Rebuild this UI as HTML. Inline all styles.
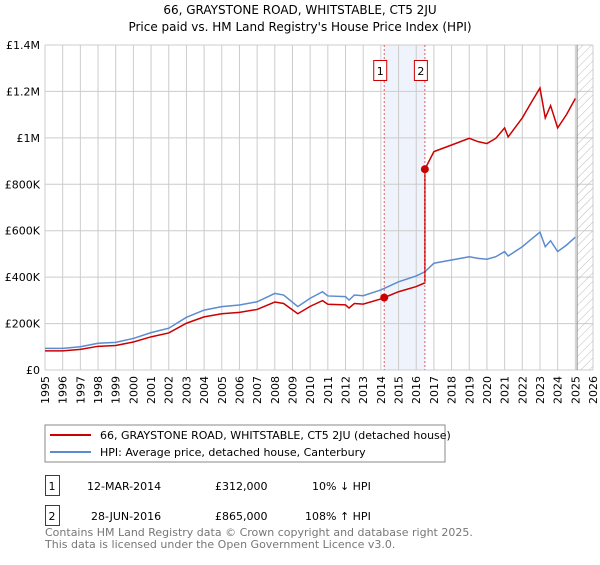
<!DOCTYPE html>
<html><head><meta charset="utf-8"><style>
body{margin:0;background:#fff;width:600px;height:560px;overflow:hidden;font-family:"Liberation Sans","DejaVu Sans",sans-serif;}
svg text{font-family:"DejaVu Sans","Liberation Sans",sans-serif;}
</style></head><body>
<svg id="c" width="600" height="560" xmlns="http://www.w3.org/2000/svg">
<defs><pattern id="hatch" width="6" height="6" patternUnits="userSpaceOnUse" patternTransform="rotate(45)"><line x1="0" y1="0" x2="0" y2="6" stroke="#bbb" stroke-width="1"/></pattern></defs>
<text x="300" y="14" text-anchor="middle" font-size="12" fill="#000">66, GRAYSTONE ROAD, WHITSTABLE, CT5 2JU</text>
<text x="300" y="31" text-anchor="middle" font-size="12" fill="#000">Price paid vs. HM Land Registry's House Price Index (HPI)</text>
<g id="grid"></g><g id="marks"></g><g id="axes"></g>
<rect x="45" y="425" width="400" height="37" fill="#fff" stroke="#888"/>
<line x1="50" y1="435" x2="91" y2="435" stroke="#cc0000" stroke-width="2"/>
<text x="100" y="439" font-size="11">66, GRAYSTONE ROAD, WHITSTABLE, CT5 2JU (detached house)</text>
<line x1="50" y1="452" x2="91" y2="452" stroke="#5b8bd0" stroke-width="2"/>
<text x="100" y="456" font-size="11">HPI: Average price, detached house, Canterbury</text>
<g>
<rect x="45.5" y="475.5" width="14" height="20" fill="#fff" stroke="#cc0000"/><text x="52" y="490" text-anchor="middle" font-size="11">1</text>
<text x="87" y="490" font-size="11">12-MAR-2014</text><text x="215" y="490" font-size="11">£312,000</text><text x="312" y="490" font-size="11">10% ↓ HPI</text></g>
<g>
<rect x="45.5" y="505.5" width="14" height="20" fill="#fff" stroke="#cc0000"/><text x="52" y="520" text-anchor="middle" font-size="11">2</text>
<text x="91" y="520" font-size="11">28-JUN-2016</text><text x="215" y="520" font-size="11">£865,000</text><text x="305" y="520" font-size="11">108% ↑ HPI</text></g>
<text x="45" y="536" font-size="11" fill="#777">Contains HM Land Registry data © Crown copyright and database right 2025.</text>
<text x="45" y="548" font-size="11" fill="#777">This data is licensed under the Open Government Licence v3.0.</text>
</svg>
<script>
const hpiYears=[1995,1996,1997,1998,1999,2000,2001,2002,2003,2004,2005,2006,2007,2008,2008.5,2009.3,2010,2010.7,2011,2012,2012.2,2012.5,2013,2014,2014.2,2015,2016,2016.49,2017,2018,2019,2019.5,2020,2020.5,2021,2021.2,2022,2022.5,2023,2023.3,2023.6,2024,2024.5,2025];
const hpiValues=[93,93,100,115,119,136,161,180,227,258,273,280,294,330,323,273,309,337,319,316,301,323,320,345,352,380,405,423,460,474,488,481,477,488,510,491,531,563,594,531,557,510,538,572];
const saleDates=[2014.19,2016.49];
const salePrices=[312,865];
const saleLabels=["1","2"];
const yTicks=[0,200,400,600,800,1000,1200,1400];
const yTickLabels=["£0","£200K","£400K","£600K","£800K","£1M","£1.2M","£1.4M"];
const xTicks=[1995,1996,1997,1998,1999,2000,2001,2002,2003,2004,2005,2006,2007,2008,2009,2010,2011,2012,2013,2014,2015,2016,2017,2018,2019,2020,2021,2022,2023,2024,2025,2026];
const NS="http://www.w3.org/2000/svg";
const L=45,R=593,T=45,B=370;
const xs=y=>L+(y-1995)/(2026-1995)*(R-L);
const ys=v=>B-v/1400*(B-T);
function mk(p,tag,at){const e=document.createElementNS(NS,tag);for(const k in at)e.setAttribute(k,at[k]);p.appendChild(e);return e;}
const grid=document.getElementById('grid'),marks=document.getElementById('marks'),axes=document.getElementById('axes');
function hpiAt(t){for(let i=1;i<hpiYears.length;i++){if(t<=hpiYears[i]){const f=(t-hpiYears[i-1])/(hpiYears[i]-hpiYears[i-1]);return hpiValues[i-1]+f*(hpiValues[i]-hpiValues[i-1]);}}return hpiValues[hpiValues.length-1];}
const band=mk(grid,'rect',{x:xs(saleDates[0]),y:T,width:xs(saleDates[1])-xs(saleDates[0]),height:B-T,fill:'#eef3fc'});


yTicks.forEach((v,i)=>{
 const g=mk(grid,'line',{x1:L,x2:R,y1:ys(v),y2:ys(v),stroke:'#ccc'});
 
 
 const t=mk(axes,'text',{x:L-5,y:ys(v)+4,'text-anchor':'end','font-size':11});
 t.textContent=yTickLabels[i];
 
 
});
xTicks.forEach(y=>{
 const g=mk(grid,'line',{x1:xs(y),x2:xs(y),y1:T,y2:B,stroke:'#ccc'});
 
 
 const t=mk(axes,'text',{x:0,y:0,'text-anchor':'end','font-size':11,transform:`translate(${xs(y)+4},${B+6}) rotate(-90)`});
 t.textContent=y;
 
 
});
const h=mk(grid,'rect',{x:xs(2025.1),y:T,width:R-xs(2025.1),height:B-T,fill:'url(#hatch)'});


mk(grid,'line',{x1:xs(2025.1),x2:xs(2025.1),y1:T,y2:B,stroke:'#888'});
const hp=mk(marks,'polyline',{points:hpiYears.map((y,i)=>xs(y)+','+ys(hpiValues[i])).join(' '),fill:'none',stroke:'#5b8bd0','stroke-width':1.5});


const pts=[];
const r0=salePrices[0]/hpiAt(saleDates[0]);
hpiYears.forEach((y,i)=>{if(y<saleDates[1])pts.push([y,hpiValues[i]*r0]);});
pts.push([saleDates[1],hpiAt(saleDates[1])*r0]);
const r1=salePrices[1]/hpiAt(saleDates[1]);
pts.push([saleDates[1],salePrices[1]]);
hpiYears.forEach((y,i)=>{if(y>saleDates[1])pts.push([y,hpiValues[i]*r1]);});
const pl=mk(marks,'polyline',{points:pts.map(p=>xs(p[0])+','+ys(p[1])).join(' '),fill:'none',stroke:'#cc0000','stroke-width':1.5});


saleDates.forEach((d,i)=>{
 const l=mk(marks,'line',{x1:xs(d),x2:xs(d),y1:T,y2:B,stroke:'#e06060','stroke-dasharray':'2,2'});
 
 
 const c=mk(marks,'circle',{cx:xs(d),cy:ys(salePrices[i]),r:4,fill:'#cc0000'});
 
 
 const b=mk(marks,'rect',{x:xs(d)-10.5,y:60.5,width:13,height:20,fill:'#fff',stroke:'#cc0000'});
 
 
 const t=mk(marks,'text',{x:xs(d)-4,y:75,'text-anchor':'middle','font-size':11});
 t.textContent=saleLabels[i];
 
 
});
</script>
</body></html>
